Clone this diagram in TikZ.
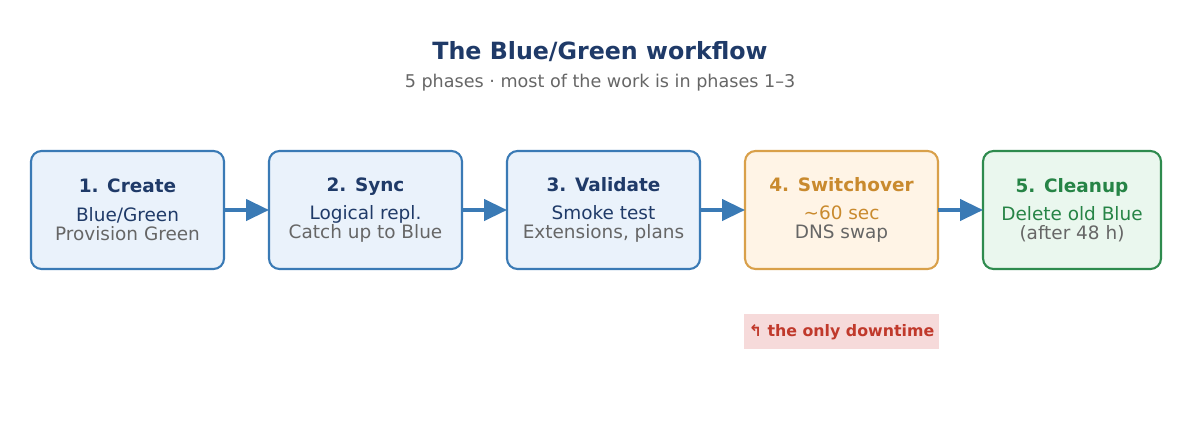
\documentclass[tikz,border=0pt]{standalone}
\usepackage{fontspec}
\setmainfont{DejaVu Sans}
\usetikzlibrary{positioning, arrows.meta}
\definecolor{bluedark}{HTML}{1F3A68}
\definecolor{blueline}{HTML}{3A7AB5}
\definecolor{bluefill}{HTML}{EAF2FB}
\definecolor{orgline}{HTML}{D9A04A}
\definecolor{orgfill}{HTML}{FFF4E6}
\definecolor{orgtext}{HTML}{C98A2E}
\definecolor{grnline}{HTML}{2E8B4E}
\definecolor{grnfill}{HTML}{EAF7EE}
\definecolor{grntext}{HTML}{268446}
\definecolor{greytext}{HTML}{666666}
\definecolor{redtext}{HTML}{C0392B}
\definecolor{redfill}{HTML}{F6DADA}
\tikzset{
    phase/.style={draw=blueline, fill=bluefill, line width=1.2pt, rounded corners=6pt, outer sep=0pt,
        minimum width=3.86cm, minimum height=2.36cm, align=center, font=\fontsize{10.5}{15}\selectfont},
    flow/.style={-{Triangle[length=13pt,width=12pt]}, blueline, line width=2pt},
}
\begin{document}
\begin{tikzpicture}[node distance=0.9cm]
    \useasboundingbox (0,0) rectangle (24,-8.4);
    % Titel
    \node (title) at (12,-1.04) {\fontsize{13.5}{16}\selectfont\bfseries\color{bluedark}The Blue/Green workflow};
    \node (sub) at (12,-1.66) {\fontsize{10}{12}\selectfont\color{greytext}5 phases · most of the work is in phases 1–3};

    % Phasen
    \node[phase] (create) at (2.55,-4.2) {{\bfseries\color{bluedark}1. Create}\\[1pt]
        {\color{bluedark}Blue/Green}\\[-4pt]{\color{greytext}Provision Green}};
    \node[phase] (sync) [right=of create] {{\bfseries\color{bluedark}2. Sync}\\[1pt]
        {\color{bluedark}Logical repl.}\\[-4pt]{\color{greytext}Catch up to Blue}};
    \node[phase] (validate) [right=of sync] {{\bfseries\color{bluedark}3. Validate}\\[1pt]
        {\color{bluedark}Smoke test}\\[-4pt]{\color{greytext}Extensions, plans}};
    \node[phase, draw=orgline, fill=orgfill] (switch) [right=of validate] {{\bfseries\color{orgtext}4. Switchover}\\[1pt]
        {\color{orgtext}\textasciitilde60 sec}\\[-4pt]{\color{greytext}DNS swap}};
    \node[phase, draw=grnline, fill=grnfill, minimum width=3.56cm] (cleanup) [right=of switch] {{\bfseries\color{grntext}5. Cleanup}\\[1pt]
        {\color{grntext}Delete old Blue}\\[-4pt]{\color{greytext}(after 48 h)}};

    % Pfeile
    \draw[flow] (create) -- (sync);
    \draw[flow] (sync) -- (validate);
    \draw[flow] (validate) -- (switch);
    \draw[flow] (switch) -- (cleanup);

    % Hinweis
    \node[fill=redfill, inner xsep=2pt, minimum width=3.9cm, minimum height=0.7cm, font=\fontsize{9}{12}\selectfont\bfseries, text=redtext]
        (note) [below=0.9cm of switch] {↰ the only downtime};
\end{tikzpicture}
\end{document}
